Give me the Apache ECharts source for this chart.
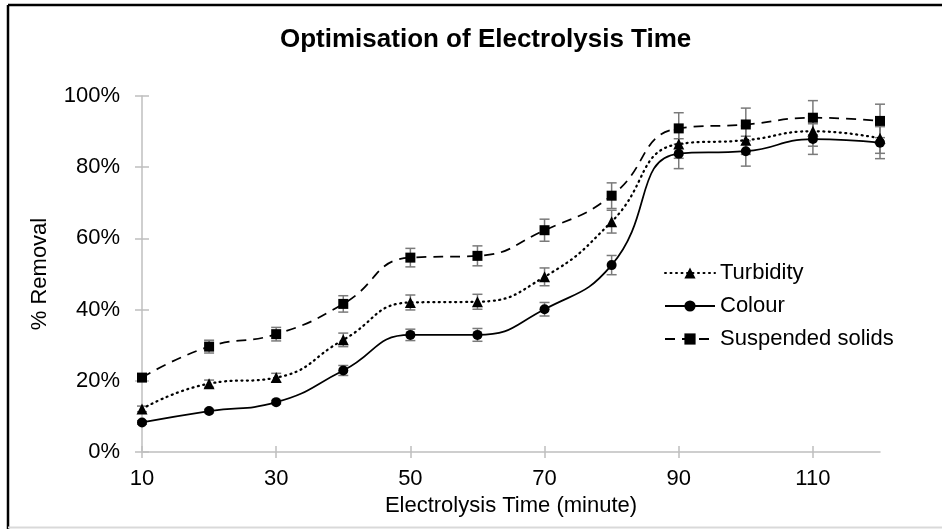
<!DOCTYPE html>
<html>
<head>
<meta charset="utf-8">
<script src="https://cdn.jsdelivr.net/npm/echarts@6/dist/echarts.min.js"></script>
<style>
  html, body { margin: 0; padding: 0; background: #fff; }
  #main { width: 942px; height: 529px; }
</style>
</head>
<body>
<div id="main"></div>
<script>
// electrolysis time, minutes
var time = [10, 20, 30, 40, 50, 60, 70, 80, 90, 100, 110, 120];
var xTicks = [10, 30, 50, 70, 90, 110];

// % removal
var turbidity = [12.1, 19.2, 20.9, 31.5, 42.0, 42.2, 49.2, 64.7, 86.5, 87.6, 90.1, 88.1];
var colour = [8.3, 11.5, 14.0, 22.9, 32.9, 32.9, 40.1, 52.5, 83.8, 84.5, 87.9, 86.9];
var suspended = [20.9, 29.6, 33.1, 41.6, 54.6, 55.1, 62.3, 72.0, 90.9, 92.0, 93.9, 93.0];

// error bar half heights
var turbidityErr = [0.8, 1.0, 1.2, 1.9, 2.1, 2.1, 2.5, 3.2, 4.0, 4.0, 4.2, 4.2];
var colourErr = [0.5, 0.5, 0.5, 1.4, 1.6, 1.8, 1.9, 2.7, 4.2, 4.2, 4.3, 4.5];
var suspendedErr = [0.8, 1.8, 1.9, 2.3, 2.6, 2.8, 3.1, 3.6, 4.4, 4.6, 4.8, 4.7];

var font = 'Liberation Sans, Arial, sans-serif';
var axisGrey = '#bfbfbf';

function pairs(vals) {
    return time.map(function (t, i) { return [t, vals[i]]; });
}

function bars(vals, errs) {
    return time.map(function (t, i) { return [t, vals[i] - errs[i], vals[i] + errs[i]]; });
}

function renderErr(params, api) {
    var x = api.value(0);
    var top = api.coord([x, api.value(2)]);
    var bot = api.coord([x, api.value(1)]);
    var w = 5;
    var style = { stroke: '#7a7a7a', lineWidth: 1.5 };
    return {
        type: 'group',
        children: [
            { type: 'line', shape: { x1: top[0], y1: top[1], x2: bot[0], y2: bot[1] }, style: style },
            { type: 'line', shape: { x1: top[0] - w, y1: top[1], x2: top[0] + w, y2: top[1] }, style: style },
            { type: 'line', shape: { x1: bot[0] - w, y1: bot[1], x2: bot[0] + w, y2: bot[1] }, style: style }
        ]
    };
}

function errSeries(vals, errs) {
    return {
        type: 'custom',
        renderItem: renderErr,
        encode: { x: 0, y: [1, 2] },
        data: bars(vals, errs),
        z: 1,
        silent: true
    };
}

var chart = echarts.init(document.getElementById('main'));
chart.setOption({
    animation: false,
    backgroundColor: '#fff',
    title: {
        text: 'Optimisation of Electrolysis Time',
        left: 275,
        top: 22,
        textStyle: { fontFamily: font, fontSize: 26, fontWeight: 'bold', color: '#000' }
    },
    grid: { left: 142, right: 62, top: 96, bottom: 77 },
    legend: {
        orient: 'vertical',
        left: 659,
        top: 257,
        itemWidth: 50,
        itemHeight: 14,
        itemGap: 11,
        data: ['Turbidity', 'Colour', 'Suspended solids'],
        textStyle: { fontFamily: font, fontSize: 22, color: '#000', lineHeight: 22 }
    },
    xAxis: [{
        type: 'value',
        min: 10,
        max: 120,
        name: 'Electrolysis Time (minute)',
        nameLocation: 'middle',
        nameGap: 36,
        nameTextStyle: { fontFamily: font, fontSize: 22, color: '#000' },
        axisLine: { onZero: false, lineStyle: { color: axisGrey, width: 1.5 } },
        axisTick: { show: true, length: 6, customValues: xTicks, lineStyle: { color: axisGrey, width: 1.5 } },
        axisLabel: { customValues: xTicks, margin: 16, fontFamily: font, fontSize: 22, color: '#000' },
        splitLine: { show: false }
    }, {
        type: 'value',
        min: 10,
        max: 120,
        position: 'bottom',
        axisLine: { show: false },
        axisTick: { show: true, inside: true, length: 6, customValues: xTicks, lineStyle: { color: axisGrey, width: 1.5 } },
        axisLabel: { show: false },
        splitLine: { show: false }
    }],
    yAxis: [{
        type: 'value',
        min: 0,
        max: 100,
        interval: 20,
        name: '% Removal',
        nameLocation: 'middle',
        nameGap: 91,
        nameTextStyle: { fontFamily: font, fontSize: 22, color: '#000' },
        axisLine: { show: true, onZero: false, lineStyle: { color: axisGrey, width: 1.5 } },
        axisTick: { show: true, length: 7, lineStyle: { color: axisGrey, width: 1.5 } },
        axisLabel: { formatter: '{value}%', margin: 22, fontFamily: font, fontSize: 22, color: '#000' },
        splitLine: { show: false }
    }, {
        type: 'value',
        min: 0,
        max: 100,
        interval: 20,
        position: 'left',
        axisLine: { show: false },
        axisTick: { show: true, inside: true, length: 7, lineStyle: { color: axisGrey, width: 1.5 } },
        axisLabel: { show: false },
        splitLine: { show: false }
    }],
    graphic: [
        { type: 'line', shape: { x1: 8, y1: 5, x2: 942, y2: 5 }, style: { stroke: '#000', lineWidth: 2.5 } },
        { type: 'line', shape: { x1: 8, y1: 5, x2: 8, y2: 529 }, style: { stroke: '#000', lineWidth: 2.5 } },
        { type: 'line', shape: { x1: 8, y1: 527.5, x2: 942, y2: 527.5 }, style: { stroke: '#d9d9d9', lineWidth: 2 } }
    ],
    series: [
        errSeries(suspended, suspendedErr),
        errSeries(turbidity, turbidityErr),
        errSeries(colour, colourErr),
        {
            name: 'Turbidity',
            type: 'line',
            smooth: 0.5,
            symbol: 'triangle',
            symbolSize: 11,
            z: 3,
            itemStyle: { color: '#000' },
            lineStyle: { color: '#000', width: 2.25, type: [1, 4.5], cap: 'round' },
            data: pairs(turbidity)
        },
        {
            name: 'Colour',
            type: 'line',
            smooth: 0.5,
            symbol: 'circle',
            symbolSize: 10,
            z: 3,
            itemStyle: { color: '#000' },
            lineStyle: { color: '#000', width: 1.75, type: 'solid' },
            data: pairs(colour)
        },
        {
            name: 'Suspended solids',
            type: 'line',
            smooth: 0.5,
            symbol: 'rect',
            symbolSize: 10,
            z: 3,
            itemStyle: { color: '#000' },
            lineStyle: { color: '#000', width: 1.75, type: [10, 7] },
            data: pairs(suspended)
        }
    ]
});
</script>
</body>
</html>
